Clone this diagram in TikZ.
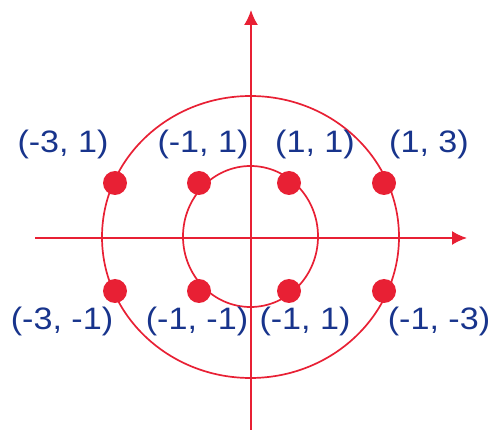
\documentclass[tikz,border=0pt]{standalone}
\usepackage{fontspec}
\usepackage{graphicx}
\setmainfont{Liberation Sans}
\usetikzlibrary{arrows.meta}

\definecolor{dotred}{RGB}{232,32,52}
\definecolor{labelblue}{RGB}{24,52,140}

\newcommand{\pairtext}[1]{\scalebox{1.1}[1]{#1}}

\begin{document}
\begin{tikzpicture}[
			x=1pt, y=-1pt,
			axis/.style={-{Latex[length=15pt, width=14pt]}, dotred, line width=1.7pt},
			ring/.style={dotred, line width=1.7pt},
			point/.style={
				circle,
				fill=dotred,
				inner sep=0pt,
				minimum size=24pt
			},
			coord/.style={
				text=labelblue,
				inner sep=0pt,
				font=\fontsize{31}{36}\selectfont
			}
			]
			
			\useasboundingbox (0,0) rectangle (493,430);
			
			\coordinate (xleft) at (35,238);
			\coordinate (xright) at (467,238);
			\coordinate (ybottom) at (251,430);
			\coordinate (ytop) at (251,10);
			
			\draw[axis] (xleft) -- (xright);
			\draw[axis] (ybottom) -- (ytop);
			
			\draw[ring] (250.5,237) ellipse [x radius=148.5pt, y radius=141pt];
			\draw[ring] (250.5,236.5) ellipse [x radius=67.5pt, y radius=70.5pt];
			
			\node[point] (p1) at (115,183) {};
			\node[point] (p2) at (199,183) {};
			\node[point] (p3) at (289,183) {};
			\node[point] (p4) at (384,183) {};
			\node[point] (p5) at (115,291) {};
			\node[point] (p6) at (199,291) {};
			\node[point] (p7) at (289,291) {};
			\node[point] (p8) at (384,291) {};
			
			\node[coord] (l1) at (63,144) {\pairtext{(-3, 1)}};
			\node[coord] (l2) at (203,144) {\pairtext{(-1, 1)}};
			\node[coord] (l3) at (315,144) {\pairtext{(1, 1)}};
			\node[coord] (l4) at (429,144) {\pairtext{(1, 3)}};
			\node[coord] (l5) at (62,321) {\pairtext{(-3, -1)}};
			\node[coord] (l6) at (197,321) {\pairtext{(-1, -1)}};
			\node[coord] (l7) at (305,321) {\pairtext{(-1, 1)}};
			\node[coord] (l8) at (439,321) {\pairtext{(-1, -3)}};
			
		\end{tikzpicture}
\end{document}
